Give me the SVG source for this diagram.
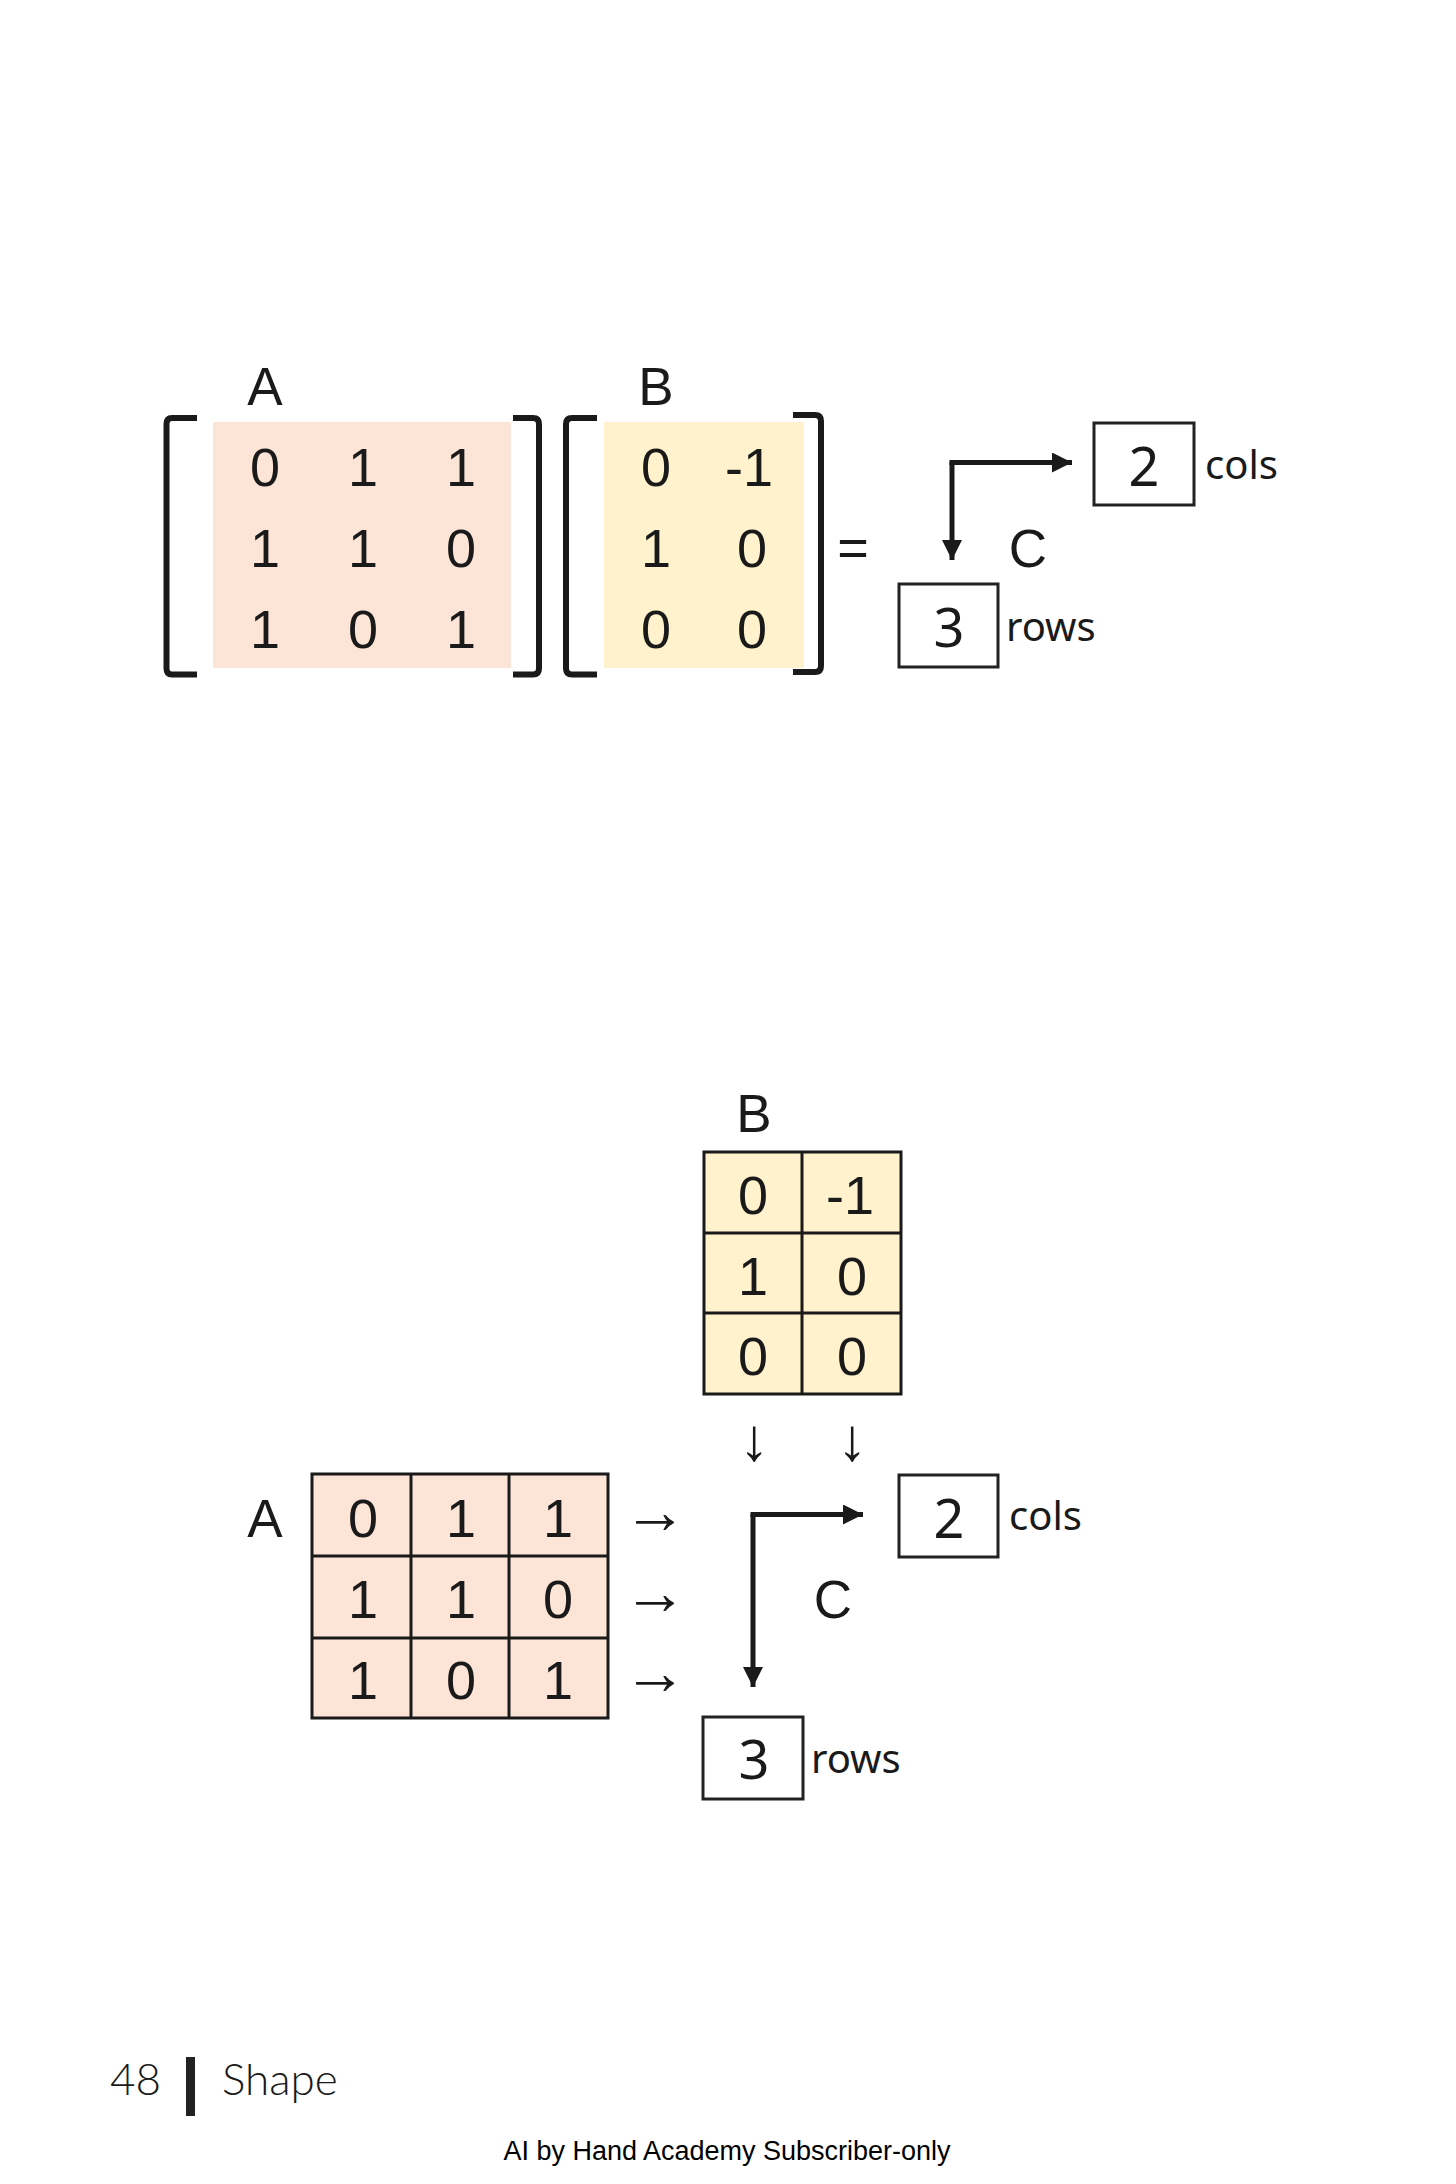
<svg xmlns="http://www.w3.org/2000/svg" width="1456" height="2184" viewBox="0 0 1456 2184">
<style>
.bg{fill:#ffffff}
.pink{fill:#FCE4D6}
.yel{fill:#FFF2CC}
.num{font-family:"Liberation Sans",Arial,sans-serif;font-size:54px;fill:#1a1a1a;text-anchor:middle}
.lbl{font-family:"Liberation Sans",Arial,sans-serif;font-size:53px;fill:#1a1a1a;text-anchor:middle}
.bx{fill:none;stroke:#222;stroke-width:3}
.bnum{font-family:"Noto Sans",sans-serif;font-size:54px;fill:#1a1a1a;text-anchor:middle}
.word{font-family:"Noto Sans",sans-serif;font-size:40px;fill:#1a1a1a}
.brk{fill:none;stroke:#1a1a1a;stroke-width:6;stroke-linejoin:round;stroke-linecap:butt}
.grid{stroke:#1a1a1a;stroke-width:3;fill:none}
.elb{fill:none;stroke:#1a1a1a;stroke-width:5}
.ar{font-family:"Liberation Sans",Arial,sans-serif;font-size:64px;fill:#1a1a1a;text-anchor:middle}
.ard{font-family:"Liberation Sans",Arial,sans-serif;font-size:60px;fill:#1a1a1a;text-anchor:middle}
.foot{font-family:Lato,"Open Sans",sans-serif;font-weight:300;font-size:44px;fill:#1a1a1a}
.credit{font-family:"Liberation Sans",Arial,sans-serif;font-size:27px;fill:#000;text-anchor:middle}
</style>
<defs>
<marker id="ah" viewBox="0 0 20 20" refX="20" refY="10" markerWidth="20" markerHeight="20" markerUnits="userSpaceOnUse" orient="auto">
<path d="M0,0 L20,10 L0,20 Z" fill="#1a1a1a"/>
</marker>
</defs>
<rect class="bg" x="0" y="0" width="1456" height="2184"/>

<!-- Top: bracket notation -->
<g id="matrixA-top">
<rect class="pink" x="213" y="422" width="298" height="246"/>
<path class="brk" d="M197,418 H172 Q166.5,418 166.5,424 V668.5 Q166.5,674.5 172,674.5 H197"/>
<path class="brk" d="M513,418 H533 Q539,418 539,424 V668.5 Q539,674.5 533,674.5 H513"/>
<text class="lbl" x="265" y="405">A</text>
<text class="num" x="265" y="486">0</text><text class="num" x="363" y="486">1</text><text class="num" x="461" y="486">1</text>
<text class="num" x="265" y="567">1</text><text class="num" x="363" y="567">1</text><text class="num" x="461" y="567">0</text>
<text class="num" x="265" y="648">1</text><text class="num" x="363" y="648">0</text><text class="num" x="461" y="648">1</text>
</g>
<g id="matrixB-top">
<rect class="yel" x="604" y="422" width="200" height="246"/>
<path class="brk" d="M597,418 H572 Q566,418 566,424 V668.5 Q566,674.5 572,674.5 H597"/>
<path class="brk" d="M793,415 H815 Q821,415 821,421 V666 Q821,672 815,672 H793"/>
<text class="lbl" x="656" y="405">B</text>
<text class="num" x="656" y="486">0</text><text class="num" x="749" y="486">-1</text>
<text class="num" x="656" y="567">1</text><text class="num" x="752" y="567">0</text>
<text class="num" x="656" y="648">0</text><text class="num" x="752" y="648">0</text>
</g>
<g id="equals-top"><text class="num" x="853" y="566">=</text></g>
<g id="C-top"><text class="lbl" x="1028" y="567">C</text></g>
<g id="cols-top">
<rect class="bx" x="1094" y="423" width="100" height="82"/>
<text class="bnum" x="1144" y="486">2</text>
<text class="word" x="1205" y="479">cols</text>
</g>
<g id="rows-top">
<rect class="bx" x="899" y="584" width="99" height="83"/>
<text class="bnum" x="949" y="647">3</text>
<text class="word" x="1006" y="641">rows</text>
</g>

<!-- Bottom: grid notation -->
<g id="matrixB-bottom">
<rect class="yel" x="704" y="1152" width="197" height="242"/>
<path class="grid" d="M704,1152 H901 V1394 H704 Z M802,1152 V1394 M704,1233 H901 M704,1313 H901"/>
<text class="lbl" x="754" y="1132">B</text>
<text class="num" x="753" y="1214">0</text><text class="num" x="850" y="1214">-1</text>
<text class="num" x="753" y="1295">1</text><text class="num" x="852" y="1295">0</text>
<text class="num" x="753" y="1375">0</text><text class="num" x="852" y="1375">0</text>
</g>
<g id="matrixA-bottom">
<rect class="pink" x="312" y="1474" width="296" height="244"/>
<path class="grid" d="M312,1474 H608 V1718 H312 Z M411,1474 V1718 M509,1474 V1718 M312,1556 H608 M312,1638 H608"/>
<text class="lbl" x="265" y="1537">A</text>
<text class="num" x="363" y="1537">0</text><text class="num" x="461" y="1537">1</text><text class="num" x="558" y="1537">1</text>
<text class="num" x="363" y="1618">1</text><text class="num" x="461" y="1618">1</text><text class="num" x="558" y="1618">0</text>
<text class="num" x="363" y="1699">1</text><text class="num" x="461" y="1699">0</text><text class="num" x="558" y="1699">1</text>
</g>
<g id="row-arrows">
<text class="ar" x="655" y="1533">→</text>
<text class="ar" x="655" y="1614">→</text>
<text class="ar" x="655" y="1694">→</text>
</g>
<g id="col-arrows">
<text class="ard" x="754" y="1460">↓</text>
<text class="ard" x="852" y="1460">↓</text>
</g>
<g id="C-bottom"><text class="lbl" x="833" y="1618">C</text></g>
<g id="cols-bottom">
<rect class="bx" x="899" y="1475" width="99" height="82"/>
<text class="bnum" x="949" y="1538">2</text>
<text class="word" x="1009" y="1530">cols</text>
</g>
<g id="rows-bottom">
<rect class="bx" x="703" y="1717" width="100" height="82"/>
<text class="bnum" x="754" y="1779">3</text>
<text class="word" x="811" y="1773">rows</text>
</g>

<g id="connectors">
<path class="elb" d="M952,462 V560" marker-end="url(#ah)"/>
<path class="elb" d="M949.5,462.5 H1072" marker-end="url(#ah)"/>
<path class="elb" d="M753,1514 V1687" marker-end="url(#ah)"/>
<path class="elb" d="M750.5,1514.5 H863" marker-end="url(#ah)"/>
</g>

<g id="footer">
<text class="foot" x="110" y="2095">48</text>
<rect x="186" y="2057" width="9" height="59" fill="#222"/>
<text class="foot" x="222" y="2095">Shape</text>
<text class="credit" x="727" y="2160">AI by Hand Academy Subscriber-only</text>
</g>
</svg>
